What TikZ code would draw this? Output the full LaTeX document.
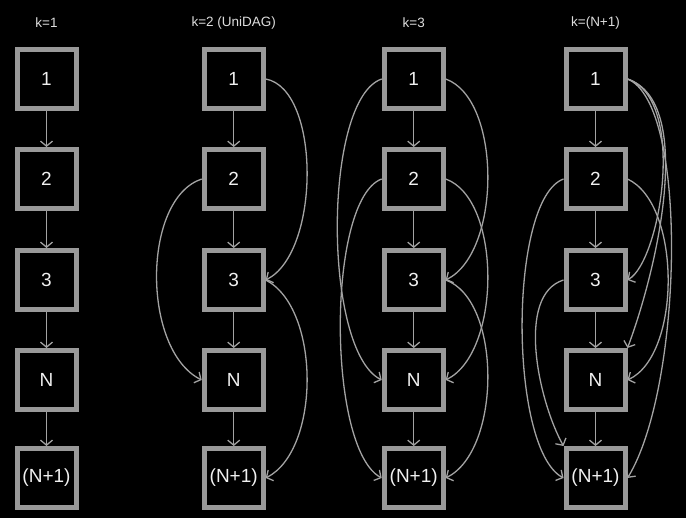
\documentclass[tikz,border=0pt]{standalone}
\usepackage{fontspec}
\setmainfont{Liberation Sans}
\usetikzlibrary{arrows.meta}
\definecolor{boxgray}{HTML}{999999}
\definecolor{edgegray}{HTML}{A3A3A3}
\definecolor{titlegray}{HTML}{DDDDDD}
\definecolor{labelwhite}{HTML}{F0F0F0}
\begin{document}
\begin{tikzpicture}[x=1pt,y=-1pt,
  blk/.style={draw=boxgray, line width=5pt, minimum width=59pt, minimum height=59pt,
    inner sep=0pt, outer sep=2.5pt, text=labelwhite, font=\fontsize{19}{22}\selectfont},
  ttl/.style={text=titlegray, font=\fontsize{13.5}{16}\selectfont, inner sep=0pt},
  edge/.style={draw=edgegray, line width=1.3pt, -{Straight Barb[length=5pt,width=12pt]}}]
\fill[black] (0,0) rectangle (686,518);
\useasboundingbox (0,0) rectangle (686,518);

% titles
\node[ttl] (t1) at (46.5,23) {k=1};
\node[ttl] (t2) at (233.7,23) {k=2 (UniDAG)};
\node[ttl] (t3) at (413.7,23) {k=3};
\node[ttl] (t4) at (595.5,23) {k=(N+1)};

% column 1
\node[blk] (a1) at (46.5,79) {1};
\node[blk] (a2) at (46.5,179) {2};
\node[blk] (a3) at (46.5,280) {3};
\node[blk] (a4) at (46.5,380) {N};
\node[blk] (a5) at (46.5,478) {(N+1)};
% column 2
\node[blk] (b1) at (233.7,79) {1};
\node[blk] (b2) at (233.7,179) {2};
\node[blk] (b3) at (233.7,280) {3};
\node[blk] (b4) at (233.7,380) {N};
\node[blk] (b5) at (233.7,478) {(N+1)};
% column 3
\node[blk] (c1) at (413.7,79) {1};
\node[blk] (c2) at (413.7,179) {2};
\node[blk] (c3) at (413.7,280) {3};
\node[blk] (c4) at (413.7,380) {N};
\node[blk] (c5) at (413.7,478) {(N+1)};
% column 4
\node[blk] (d1) at (595.5,79) {1};
\node[blk] (d2) at (595.5,179) {2};
\node[blk] (d3) at (595.5,280) {3};
\node[blk] (d4) at (595.5,380) {N};
\node[blk] (d5) at (595.5,478) {(N+1)};

% chains
\foreach \c in {a,b,c,d}{
  \draw[edge] (\c1) -- (\c2);
  \draw[edge] (\c2) -- (\c3);
  \draw[edge] (\c3) -- (\c4);
  \draw[edge] (\c4) -- (\c5);
}

% column 2 skips
\draw[edge] (b1.east) .. controls +(55,10) and +(55,-28) .. (b3.east);
\draw[edge] (b2.west) .. controls +(-60,20) and +(-60,-30) .. (b4.west);
\draw[edge] (b3.east) .. controls +(55,28) and +(55,-28) .. (b5.east);

% column 3 skips
\draw[edge] (c1.east) .. controls +(56,20) and +(56,-28) .. (c3.east);
\draw[edge] (c2.east) .. controls +(56,20) and +(56,-28) .. (c4.east);
\draw[edge] (c3.east) .. controls +(56,20) and +(56,-28) .. (c5.east);
\draw[edge] (c1.west) .. controls +(-59,20) and +(-59,-30) .. (c4.west);
\draw[edge] (c2.west) .. controls +(-55,20) and +(-55,-30) .. (c5.west);

% column 4 skips
\draw[edge] (d1.east) .. controls +(60,20) and +(33,-19) .. (d3.east);
\draw[edge] (d1.east) .. controls +(68,23) and +(30,-80) .. (d4.north east);
\draw[edge] (d1.east) .. controls +(62,25) and +(55,-90) .. (d5.east);
\draw[edge] (d2.east) .. controls +(54,25) and +(54,-25) .. (d4.east);
\draw[edge] (d2.west) .. controls +(-55,20) and +(-55,-30) .. (d5.west);
\draw[edge] (d3.west) .. controls +(-48,15) and +(-25,-45) .. (d5.north west);
\end{tikzpicture}
\end{document}
